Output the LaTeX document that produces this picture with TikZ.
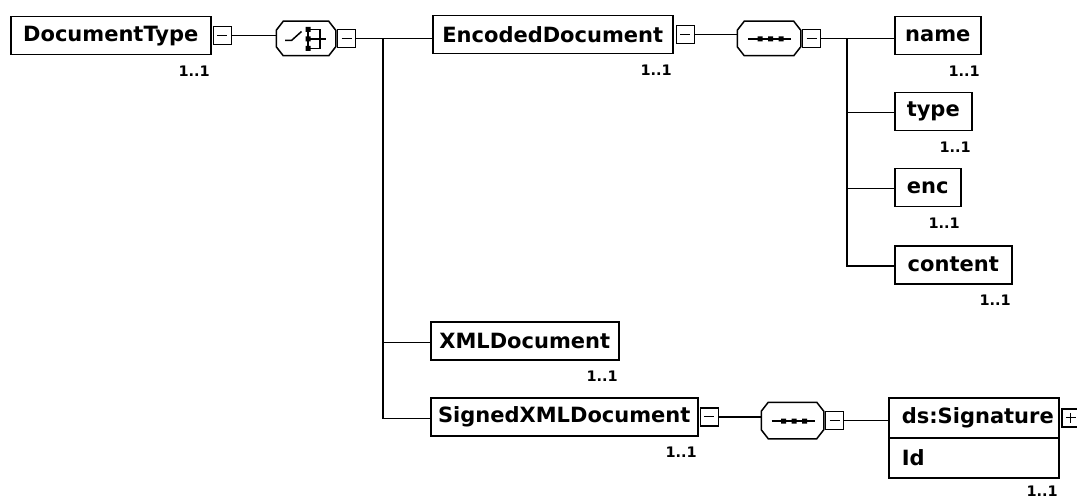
\documentclass[tikz,border=0pt]{standalone}
\usepackage{fontspec}
\setmainfont{DejaVu Sans}
\newcommand\octpath[1]{\draw ([xshift=7pt]#1.north west) -- ([xshift=-7pt]#1.north east) -- ([yshift=-9pt]#1.north east) -- ([yshift=9pt]#1.south east) -- ([xshift=-7pt]#1.south east) -- ([xshift=7pt]#1.south west) -- ([yshift=9pt]#1.south west) -- ([yshift=-9pt]#1.north west) -- cycle;}
\newcommand\seqicon[1]{\draw[shift={(#1.center)}] (-21,0.5) -- (22,0.5);
  \fill[shift={(#1.center)}] (-11.5,-2) rectangle (-6.5,3) (-1,-2) rectangle (4,3) (9.5,-2) rectangle (14.5,3);}
\begin{document}
\begin{tikzpicture}[x=1pt,y=-1pt,line width=1.5pt,
  elem/.style={draw, minimum height=38pt, inner sep=0pt, anchor=north west,
    font=\bfseries\fontsize{21}{25}\selectfont},
  card/.style={inner sep=0pt, anchor=north east, xshift=-1pt, yshift=-10pt,
    font=\bfseries\fontsize{14.5}{17}\selectfont},
  tog/.style={draw, minimum width=18pt, minimum height=18pt, inner sep=0pt, anchor=west,
    path picture={\draw[line width=1.4pt] ([xshift=4pt]path picture bounding box.west) -- ([xshift=-4pt]path picture bounding box.east);}},
  togplus/.style={tog, path picture={\draw[line width=1.4pt] ([xshift=4pt]path picture bounding box.west) -- ([xshift=-4pt]path picture bounding box.east);
    \draw[line width=1.4pt] ([yshift=-4pt]path picture bounding box.north) -- ([yshift=4pt]path picture bounding box.south);}},
  comp/.style={minimum height=33pt, inner sep=0pt},
  sigpart/.style={draw, minimum height=40pt, text width=144pt, inner xsep=13pt, inner ysep=0pt,
    align=left, anchor=north west, font=\bfseries\fontsize{21}{25}\selectfont}
]
\useasboundingbox (0,0) rectangle (1077,500);

% root
\node[elem, minimum width=200pt] (dt) at (10,16) {DocumentType};
\node[card] at (dt.south east) {1..1};
\node[tog] (dtm) at ([xshift=1pt]dt.east) {};

% choice compositor
\node[comp, minimum width=58pt] (ch) at (306,38.5) {};
\octpath{ch}
\draw[shift={(ch.center)}] (-21,2) -- (-14.5,2) -- (-4.5,-7);
\draw[shift={(ch.center)}] (2,-9) -- (2,10) (2,-9) -- (14,-9) -- (14,10) -- (2,10) (2,0.5) -- (20,0.5);
\fill[shift={(ch.center)}] (-0.5,-11.5) rectangle (4.5,-6.5) (-0.5,-2) rectangle (4.5,3) (-0.5,7.5) rectangle (4.5,12.5);
\node[tog] (chm) at ([xshift=1pt]ch.east) {};
\draw (dtm.east) -- (ch.west |- dtm.east);
\coordinate (b1) at (383,39);

% EncodedDocument
\node[elem, minimum width=240pt] (ed) at (432,15) {EncodedDocument};
\node[card] at (ed.south east) {1..1};
\node[tog] (edm) at ([xshift=2pt]ed.east) {};
\draw (chm.east) -- (ed.west |- chm.east);

% sequence of EncodedDocument
\node[comp, minimum width=62pt] (sq1) at (769,38.5) {};
\octpath{sq1}
\seqicon{sq1}
\node[tog] (sq1m) at ([xshift=1pt]sq1.east) {};
\draw (edm.east) -- (sq1.west |- edm.east);
\coordinate (b2) at (847,39);

\node[elem, minimum width=86pt] (nm) at (894,16) {name};
\node[card] at (nm.south east) {1..1};
\node[elem, minimum width=77pt] (ty) at (894,92) {type};
\node[card] at (ty.south east) {1..1};
\node[elem, minimum width=66pt] (en) at (894,168) {enc};
\node[card] at (en.south east) {1..1};
\node[elem, minimum width=117pt] (ct) at (894,245) {content};
\node[card] at (ct.south east) {1..1};

\draw (sq1m.east) -- (nm.west |- sq1m.east);
\draw (b2) |- ([yshift=-1pt]ct.west);
\draw (b2 |- ty.west) ++(0,1) -- ([yshift=-1pt]ty.west);
\draw (b2 |- en.west) ++(0,1) -- ([yshift=-1pt]en.west);

% XMLDocument / SignedXMLDocument
\node[elem, minimum width=188pt] (xd) at (430,321) {XMLDocument};
\node[card] at (xd.south east) {1..1};
\node[elem, minimum width=267pt] (sx) at (430,397) {SignedXMLDocument};
\node[card] at (sx.south east) {1..1};
\node[tog] (sxm) at ([xshift=1pt]sx.east) {};

\draw (b1) |- ([yshift=-1.5pt]sx.west);
\draw (b1 |- xd.west) ++(0,1.5) -- ([yshift=-1.5pt]xd.west);

% sequence of SignedXMLDocument
\node[comp, minimum width=61pt, minimum height=35pt] (sq2) at (792.5,420.5) {};
\octpath{sq2}
\seqicon{sq2}
\node[tog] (sq2m) at ([xshift=1pt]sq2.east) {};
\draw (sxm.east) -- (sq2.west |- sxm.east);

% ds:Signature
\node[sigpart] (sig) at (888,397) {ds:Signature};
\node[sigpart] (sigid) at (888,437) {Id};
\node[card, yshift=3pt] at (sigid.south east) {1..1};
\node[togplus] (sigp) at ([xshift=1.5pt]sig.east) {};
\draw (sq2m.east) -- (sig.west |- sq2m.east);
\end{tikzpicture}
\end{document}
